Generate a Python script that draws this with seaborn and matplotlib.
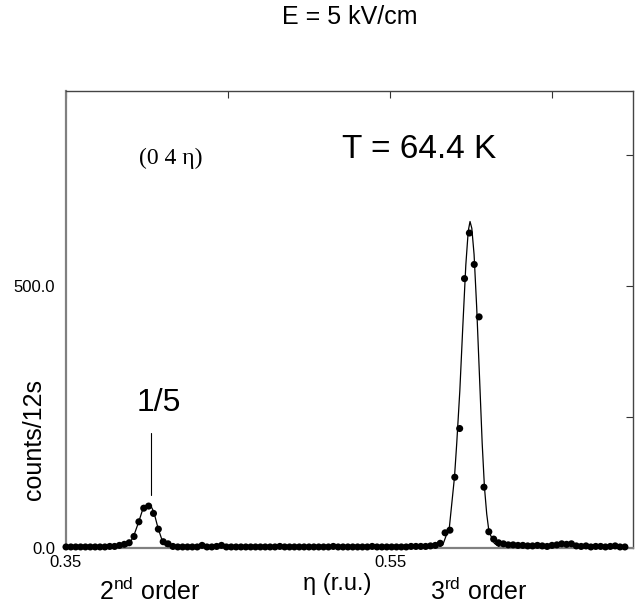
import numpy as np
import pandas as pd
import seaborn as sns
import matplotlib.pyplot as plt

# measured scan (0 4 eta), T = 64.4 K, E = 5 kV/cm
eta = [
    0.350, 0.353, 0.356, 0.359, 0.362, 0.365, 0.368, 0.371, 0.374, 0.377,
    0.380, 0.383, 0.386, 0.389, 0.392, 0.395, 0.398, 0.401, 0.404, 0.407,
    0.410, 0.413, 0.416, 0.419, 0.422, 0.425, 0.428, 0.431, 0.434, 0.437,
    0.440, 0.443, 0.446, 0.449, 0.452, 0.455, 0.458, 0.461, 0.464, 0.467,
    0.470, 0.473, 0.476, 0.479, 0.482, 0.485, 0.488, 0.491, 0.494, 0.497,
    0.500, 0.503, 0.506, 0.509, 0.512, 0.515, 0.518, 0.521, 0.524, 0.527,
    0.530, 0.533, 0.536, 0.539, 0.542, 0.545, 0.548, 0.551, 0.554, 0.557,
    0.560, 0.563, 0.566, 0.569, 0.572, 0.575, 0.578, 0.581, 0.584, 0.587,
    0.590, 0.593, 0.596, 0.599, 0.602, 0.605, 0.608, 0.611, 0.614, 0.617,
    0.620, 0.623, 0.626, 0.629, 0.632, 0.635, 0.638, 0.641, 0.644, 0.647,
    0.650, 0.653, 0.656, 0.659, 0.662, 0.665, 0.668, 0.671, 0.674, 0.677,
    0.680, 0.683, 0.686, 0.689, 0.692, 0.695,
]
counts = [
    2, 2, 2, 2, 2, 2, 2, 2, 2, 3,
    3, 5, 7, 10, 22, 50, 76, 80, 66, 36,
    12, 8, 3, 2, 2, 2, 2, 2, 5, 2,
    2, 3, 5, 2, 2, 2, 2, 2, 2, 2,
    2, 2, 2, 2, 3, 2, 2, 2, 2, 2,
    2, 2, 2, 2, 2, 3, 2, 2, 2, 2,
    2, 2, 2, 3, 2, 2, 2, 2, 2, 2,
    2, 3, 3, 3, 3, 4, 5, 9, 29, 34,
    135, 228, 514, 601, 541, 441, 116, 31, 17, 10,
    8, 6, 6, 5, 5, 4, 4, 5, 4, 3,
    5, 6, 8, 7, 8, 4, 3, 4, 2, 3,
    3, 2, 3, 4, 2, 2,
]

# fitted curves
fit1_eta = [0.3857, 0.3888, 0.3918, 0.3949, 0.3974, 0.4000, 0.4021, 0.4042,
            0.4068, 0.4093, 0.4114, 0.4146]
fit1_counts = [0, 6, 23, 50, 74, 82, 82, 69, 38, 15, 4, 0]
fit2_eta = [0.5795, 0.5826, 0.5867, 0.5898, 0.5912, 0.5931, 0.5949, 0.5968,
            0.5983, 0.5994, 0.6005, 0.6019, 0.6035, 0.6056, 0.6069, 0.6083,
            0.6097, 0.6111, 0.6144, 0.6175, 0.6202]
fit2_counts = [0, 6, 41, 135, 200, 300, 420, 540, 605, 623, 610, 560, 460,
               300, 200, 116, 65, 31, 9, 2, 0]

# 1/5 marker above the 2nd order peak
marker_eta = 0.4023
marker_lo, marker_hi = 101, 219

scan = pd.DataFrame({'eta': eta, 'counts': counts})
fit = pd.DataFrame({
    'eta': fit1_eta + fit2_eta,
    'counts': fit1_counts + fit2_counts,
    'peak': ['2nd'] * len(fit1_eta) + ['3rd'] * len(fit2_eta),
})

sns.set_theme(style='white')
plt.rcParams['font.family'] = ['Liberation Sans', 'DejaVu Sans']
plt.rcParams['mathtext.fontset'] = 'custom'
plt.rcParams['mathtext.rm'] = 'Liberation Sans'
plt.rcParams['text.color'] = 'black'

W, H = 643, 615
fig = plt.figure(figsize=(W / 100, H / 100), dpi=100)
ax = fig.add_axes([66 / W, 1 - 548 / H, 567 / W, 457 / H])

sns.lineplot(data=fit, x='eta', y='counts', units='peak', estimator=None,
             sort=False, color='black', lw=0.9, ax=ax)
sns.scatterplot(data=scan, x='eta', y='counts', color='black', s=26,
                edgecolor='none', clip_on=False, zorder=5, ax=ax)
ax.plot([marker_eta, marker_eta], [marker_lo, marker_hi], color='black', lw=0.8)

ax.set_xlim(0.35, 0.70)
ax.set_ylim(0, 872)
ax.set_xticks([0.35, 0.45, 0.55, 0.65])
ax.set_xticklabels(['0.35', '', '0.55', ''])
ax.set_yticks([0, 250, 500, 750])
ax.set_yticklabels(['0.0', '', '500.0', ''])
ax.tick_params(axis='both', direction='in', length=5, width=0.8, color='#333333',
               labelcolor='black', top=True, right=True, labelsize=12)
ax.tick_params(axis='y', pad=8)
ax.tick_params(axis='x', pad=5)
ax.set_xlabel('')
ax.set_ylabel('')
for side in ['left', 'bottom']:
    ax.spines[side].set_color('#808080')
    ax.spines[side].set_linewidth(1.6)
for side in ['top', 'right']:
    ax.spines[side].set_color('#444444')
    ax.spines[side].set_linewidth(1.0)

ax.text(0.4146, 744, '(0 4 η)', family=['Liberation Serif', 'DejaVu Serif'],
        fontsize=17, ha='center', va='center')
ax.text(0.5678, 760, 'T = 64.4 K', fontsize=24, ha='center', va='center')
ax.text(0.4075, 277, '1/5', fontsize=23, ha='center', va='center')

fig.text(350 / W, 1 - 17 / H, 'E = 5 kV/cm', fontsize=18, ha='center', va='center')
fig.text(33.5 / W, 1 - 440 / H, 'counts/12s', fontsize=18, rotation=90,
         ha='center', va='center')
fig.text(337 / W, 1 - 590 / H, 'η (r.u.)', fontsize=17, ha='center', va='baseline')
fig.text(150 / W, 1 - 600 / H, r'2$^{\mathrm{nd}}$ order', fontsize=18,
         ha='center', va='baseline')
fig.text(479 / W, 1 - 600 / H, r'3$^{\mathrm{rd}}$ order', fontsize=18,
         ha='center', va='baseline')

fig.savefig('out.png', dpi=100)
